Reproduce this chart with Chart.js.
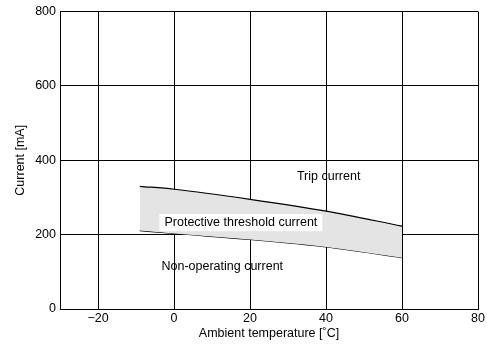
<!DOCTYPE html>
<html>
<head>
<meta charset="utf-8">
<script src="https://cdn.jsdelivr.net/npm/chart.js@4"></script>
<style>
  html, body { margin: 0; padding: 0; background: #fff; }
  #wrap { width: 487px; height: 346px; }
</style>
</head>
<body>
<div id="wrap"><canvas id="c" width="487" height="346"></canvas></div>
<script>
// temperatures
const temps      = [-9, 0, 20, 40, 60];
const tripVals   = [330, 322, 295, 263, 223];
const nonOpVals  = [211, 203, 187, 167, 138];
const xTicks     = [-20, 0, 20, 40, 60, 80];
const yTicks     = [0, 200, 400, 600, 800];

const FONT = { family: "'Liberation Sans', Arial, sans-serif", size: 12.5 };

const toPts = vals => temps.map((t, i) => ({ x: t, y: vals[i] }));

// text notes placed in data coordinates
const notes = [
  { text: 'Trip current',                 x: 40.7, y: 357,   box: false },
  { text: 'Protective threshold current', x: 17.6, y: 233.5, box: true  },
  { text: 'Non-operating current',        x: 12.7, y: 113.5, box: false }
];

const notePlugin = {
  id: 'notes',
  afterDatasetsDraw(chart) {
    const ctx = chart.ctx, xs = chart.scales.x, ys = chart.scales.y;
    ctx.save();
    ctx.font = `${FONT.size}px ${FONT.family}`;
    ctx.textAlign = 'center';
    ctx.textBaseline = 'middle';
    notes.forEach(n => {
      const px = xs.getPixelForValue(n.x), py = ys.getPixelForValue(n.y);
      if (n.box) {
        const w = ctx.measureText(n.text).width + 10;
        ctx.fillStyle = '#fff';
        ctx.fillRect(px - w / 2, py - 8, w, 17);
      }
      ctx.fillStyle = '#000';
      ctx.fillText(n.text, px, py);
    });
    ctx.restore();
  }
};

new Chart(document.getElementById('c').getContext('2d'), {
  type: 'line',
  data: {
    datasets: [
      { data: toPts(tripVals),  borderColor: '#000', borderWidth: 1.2, pointRadius: 0,
        tension: 0.4, cubicInterpolationMode: 'monotone', fill: '1', backgroundColor: '#e4e4e4' },
      { data: toPts(nonOpVals), borderColor: '#000', borderWidth: 1.2, pointRadius: 0,
        tension: 0.4, cubicInterpolationMode: 'monotone', fill: false }
    ]
  },
  options: {
    responsive: false,
    animation: false,
    layout: { padding: { top: 11, right: 9, left: 13, bottom: 5 } },
    plugins: { legend: { display: false }, tooltip: { enabled: false } },
    scales: {
      x: {
        type: 'linear', min: -30, max: 80,
        afterBuildTicks: s => { s.ticks = xTicks.map(v => ({ value: v })); },
        afterFit: s => { s.height = 32; },
        ticks: { color: '#000', font: FONT, padding: 2, maxRotation: 0,
                 callback: v => v < 0 ? '\u2212' + Math.abs(v) : v },
        grid: { color: '#000', lineWidth: 1, drawTicks: false },
        border: { color: '#000', width: 1 },
        title: { display: true, text: 'Ambient temperature [\u02daC]', color: '#000', font: FONT, padding: { top: 0, bottom: 0 } }
      },
      y: {
        min: 0, max: 800,
        afterBuildTicks: s => { s.ticks = yTicks.map(v => ({ value: v })); },
        afterFit: s => { s.width = 47; },
        ticks: { color: '#000', font: FONT, padding: 4 },
        grid: { color: '#000', lineWidth: 1, drawTicks: false },
        border: { color: '#000', width: 1 },
        title: { display: true, text: 'Current [mA]', color: '#000', font: FONT, padding: { top: 0, bottom: 0 } }
      }
    }
  },
  plugins: [notePlugin]
});
</script>
</body>
</html>
